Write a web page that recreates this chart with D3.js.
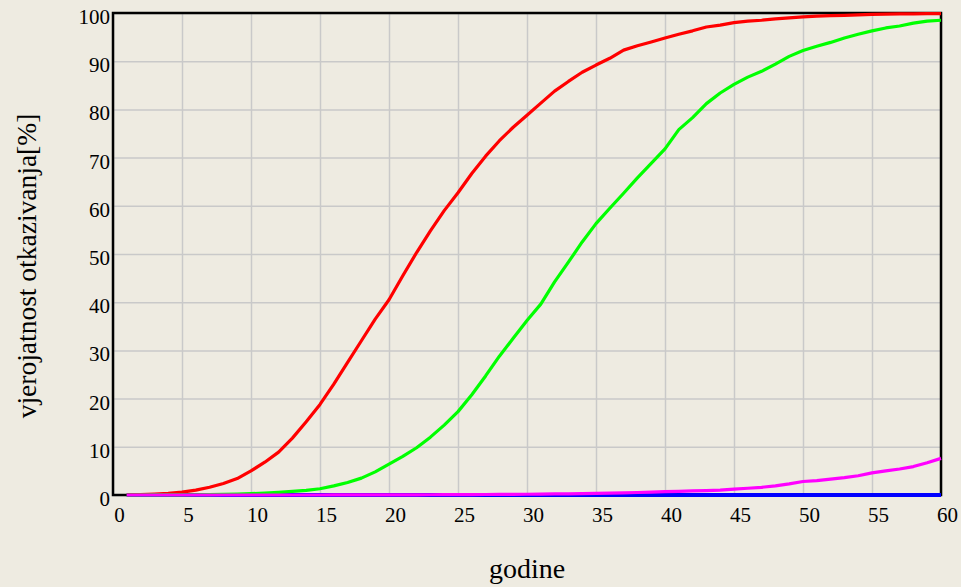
<!DOCTYPE html>
<html>
<head>
<meta charset="utf-8">
<script src="https://cdn.jsdelivr.net/npm/d3@7"></script>
<style>
  body { margin: 0; background: #eeebe1; }
  svg { display: block; }
  text { font-family: "Liberation Serif", "Times New Roman", serif; fill: #000; }
</style>
</head>
<body>
<svg id="chart" width="961" height="587"></svg>
<script>
// DATA
const years = d3.range(1, 61);
const xTicks = [0, 5, 10, 15, 20, 25, 30, 35, 40, 45, 50, 55, 60];
const yTicks = [0, 10, 20, 30, 40, 50, 60, 70, 80, 90, 100];

const red = [
  0.05, 0.1, 0.2, 0.35, 0.6, 1.0, 1.6, 2.4, 3.4, 5.0,
  6.8, 8.9, 11.8, 15.2, 18.8, 23.0, 27.5, 32.0, 36.5, 40.5,
  45.5, 50.3, 54.8, 59.0, 62.7, 66.7, 70.3, 73.5, 76.3, 78.8,
  81.3, 83.8, 85.8, 87.7, 89.2, 90.6, 92.3, 93.2, 94.0, 94.8,
  95.6, 96.3, 97.1, 97.5, 98.0, 98.3, 98.5, 98.8, 99.0, 99.2,
  99.35, 99.45, 99.5, 99.6, 99.7, 99.75, 99.8, 99.8, 99.85, 99.85
];
const green = [
  0, 0, 0.01, 0.02, 0.03, 0.05, 0.08, 0.12, 0.18, 0.28,
  0.4, 0.55, 0.75, 0.95, 1.3, 1.9, 2.6, 3.5, 4.8, 6.4,
  8.0, 9.8, 12.0, 14.5, 17.3, 20.8, 24.7, 28.8, 32.5, 36.2,
  39.6, 44.2, 48.3, 52.5, 56.3, 59.5, 62.6, 65.8, 68.8, 71.8,
  75.8, 78.3, 81.2, 83.4, 85.2, 86.7, 87.9, 89.4, 91.0, 92.2,
  93.1, 93.9, 94.8, 95.6, 96.3, 96.9, 97.3, 97.9, 98.3, 98.5
];
const blue = [
  0, 0, 0, 0, 0, 0, 0, 0, 0, 0,
  0, 0, 0, 0, 0, 0, 0, 0, 0, 0,
  0, 0, 0, 0, 0, 0, 0, 0, 0, 0,
  0, 0, 0, 0, 0, 0, 0, 0, 0, 0,
  0, 0, 0, 0, 0, 0, 0, 0, 0, 0,
  0, 0, 0, 0.01, 0.01, 0.01, 0.01, 0.02, 0.02, 0.02
];
const magenta = [
  0, 0, 0, 0, 0, 0, 0, 0, 0, 0,
  0, 0, 0, 0, 0, 0.01, 0.01, 0.02, 0.02, 0.03,
  0.03, 0.04, 0.05, 0.06, 0.07, 0.08, 0.1, 0.12, 0.14, 0.16,
  0.19, 0.22, 0.25, 0.29, 0.34, 0.4, 0.45, 0.52, 0.6, 0.68,
  0.76, 0.84, 0.92, 1.0, 1.2, 1.4, 1.6, 1.9, 2.3, 2.8,
  3.0, 3.3, 3.6, 4.0, 4.6, 5.0, 5.4, 5.9, 6.7, 7.6
];

const series = [
  { name: "blue", values: blue, color: "#0000ff", width: 4 },
  { name: "red", values: red, color: "#ff0000", width: 3.2 },
  { name: "green", values: green, color: "#00ff00", width: 3.2 },
  { name: "magenta", values: magenta, color: "#ff00ff", width: 3.2 }
];

// CANVAS SETUP
const svg = d3.select("#chart");
const margin = { top: 13, right: 20, bottom: 92, left: 113 };
const width = 961 - margin.left - margin.right,
  height = 587 - margin.top - margin.bottom;

const x = d3.scaleLinear().domain([0, 60]).range([0, width]);
const y = d3.scaleLinear().domain([0, 100]).range([height, 0]);

const g = svg.append("g").attr("transform", `translate(${margin.left},${margin.top})`);

// grid
g.append("g")
  .attr("transform", `translate(0,${height})`)
  .call(d3.axisBottom(x).tickValues(xTicks).tickSize(-height).tickFormat(""))
  .call((s) => s.select(".domain").remove())
  .call((s) => s.selectAll("line").attr("stroke", "#c9c9c9").attr("stroke-width", 1.5));

g.append("g")
  .call(d3.axisLeft(y).tickValues(yTicks).tickSize(-width).tickFormat(""))
  .call((s) => s.select(".domain").remove())
  .call((s) => s.selectAll("line").attr("stroke", "#c9c9c9").attr("stroke-width", 1.5));

// frame
g.append("rect")
  .attr("width", width)
  .attr("height", height)
  .attr("fill", "none")
  .attr("stroke", "#000")
  .attr("stroke-width", 2.5);

// tick labels
g.append("g")
  .attr("transform", `translate(0,${height})`)
  .call(d3.axisBottom(x).tickValues(xTicks).tickSize(0).tickPadding(12))
  .call((s) => s.select(".domain").remove())
  .call((s) => s.selectAll("text")
    .attr("dx", 6)
    .style("font-size", "21px")
    .style("font-family", "'Liberation Serif', serif"));

g.append("g")
  .call(d3.axisLeft(y).tickValues(yTicks).tickSize(0).tickPadding(3))
  .call((s) => s.select(".domain").remove())
  .call((s) => s.selectAll("text")
    .attr("dy", "0.5em")
    .style("font-size", "21px")
    .style("font-family", "'Liberation Serif', serif"));

// lines
const line = d3.line()
  .x((d, i) => x(years[i]))
  .y((d) => y(d));

g.selectAll(".series")
  .data(series)
  .join("path")
  .attr("class", "series")
  .attr("fill", "none")
  .attr("stroke", (d) => d.color)
  .attr("stroke-width", (d) => d.width)
  .attr("stroke-linejoin", "round")
  .attr("d", (d) => line(d.values));

// axis titles
svg.append("text")
  .attr("x", margin.left + x(30))
  .attr("y", 578)
  .attr("text-anchor", "middle")
  .style("font-size", "28px")
  .text("godine");

svg.append("text")
  .attr("transform", `translate(36,266) rotate(-90)`)
  .attr("text-anchor", "middle")
  .style("font-size", "27.5px")
  .text("vjerojatnost otkazivanja[%]");
</script>
</body>
</html>
